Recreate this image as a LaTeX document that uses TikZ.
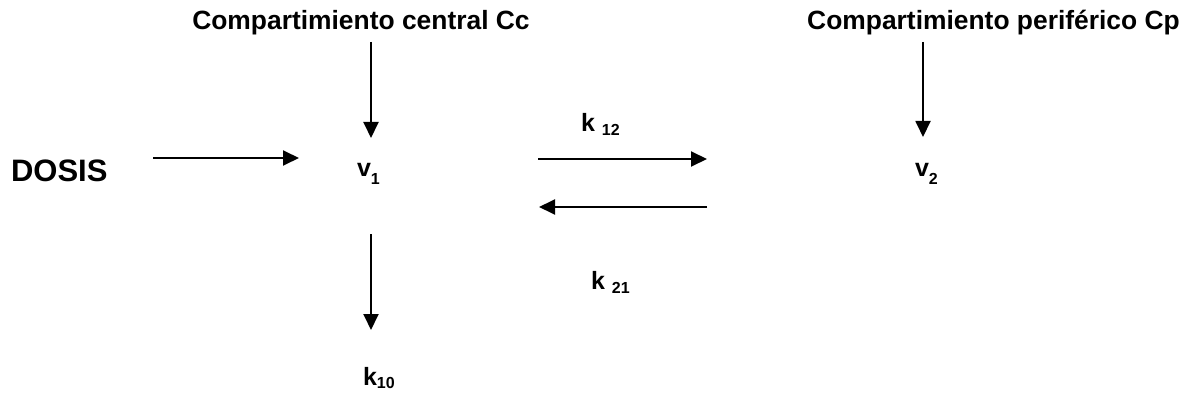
\documentclass[tikz,border=0pt]{standalone}
\usepackage{fontspec}
\setmainfont{Liberation Sans}
\usetikzlibrary{arrows.meta,calc}
% lowered, smaller index next to a symbol: \lowsub{drop in pt}{text}
\newcommand\lowsub[2]{\raisebox{-#1pt}{\fontsize{16}{16}\selectfont #2}}
\begin{document}
\begin{tikzpicture}[x=1pt,y=-1pt,
  every node/.style={inner sep=0pt,outer sep=0pt,font=\bfseries},
  title/.style={font=\fontsize{26.4}{30}\selectfont\bfseries,anchor=base},
  symb/.style={font=\fontsize{25}{28}\selectfont\bfseries,anchor=base west},
  arr/.style={line width=1.9pt,-{Triangle[length=16pt,width=15pt]}}]
\useasboundingbox (0,0) rectangle (1190,398);

% labels
\node[title] (cc) at (361,30) {Compartimiento central Cc};
\node[title] (cp) at (993.5,30) {Compartimiento periférico Cp};
\node[anchor=base west,font=\fontsize{31}{34}\selectfont\bfseries] (dosis) at (11,182) {DOSIS};
\node[symb] (v1) at (357,177) {v\lowsub{8}{1}};
\node[symb] (v2) at (915,177) {v\lowsub{8}{2}};
\node[symb] (k12) at (581,132) {k \lowsub{4}{12}};
\node[symb] (k21) at (591,289) {k \lowsub{4}{21}};
\node[symb] (k10) at (363,385) {k\lowsub{3}{10}};

% connectors
\draw[arr] ($(v1.base west)+(14,-135)$) -- ($(v1.base west)+(14,-39)$);
\draw[arr] ($(v2.base west)+(8,-135)$) -- ($(v2.base west)+(8,-40)$);
\draw[arr] ($(dosis.base east)+(46,-24)$) -- ($(v1.base west)+(-58,-19)$);
\draw[arr] ($(v1.base west)+(181,-18)$) -- ($(v2.base west)+(-208,-18)$);
\draw[arr] ($(v2.base west)+(-208,30)$) -- ($(v1.base west)+(182,30)$);
\draw[arr] ($(v1.base west)+(14,57)$) -- ($(k10.base west)+(8,-55)$);
\end{tikzpicture}
\end{document}
